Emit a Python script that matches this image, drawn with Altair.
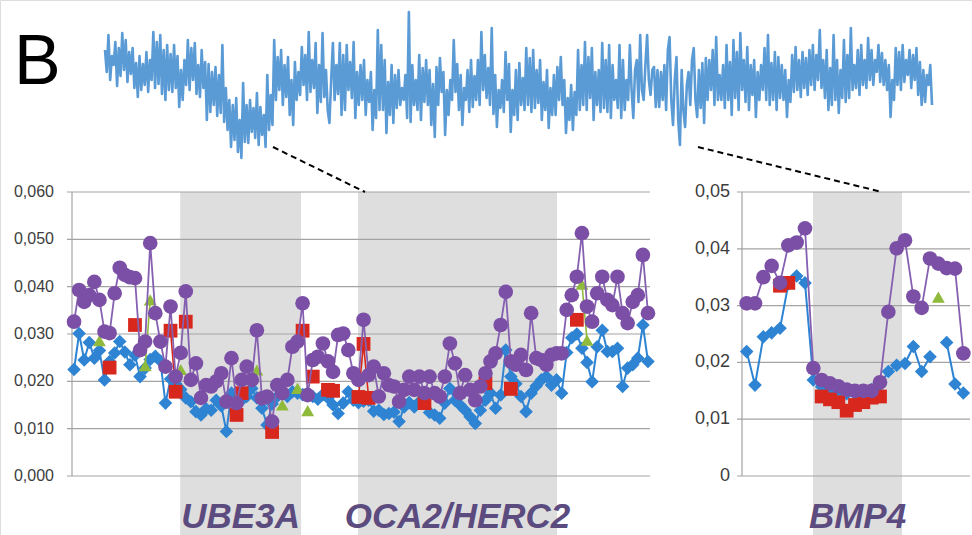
import altair as alt
import pandas as pd

# ---------------------------------------------------------------------------
# Top track: windowed signal along the whole region (arbitrary units, up = high)
# ---------------------------------------------------------------------------
track_signal = [
    110, 88, 125, 80, 104, 95, 118, 74, 112, 84, 127, 90, 120, 78, 108, 86, 112, 72, 97, 63,
    104, 70, 96, 75, 108, 68, 100, 80, 128, 72, 118, 76, 125, 66, 110, 60, 115, 70, 106, 68,
    115, 72, 104, 53, 90, 60, 100, 75, 120, 70, 112, 80, 117, 66, 95, 63, 110, 72, 98, 40,
    96, 48, 88, 55, 93, 44, 85, 47, 115, 38, 72, 30, 60, 13, 55, 20, 62, 8, 40, 2,
    77, 18, 55, 17, 60, 28, 52, 22, 67, 15, 53, 25, 45, 13, 85, 30, 65, 35, 120, 60,
    103, 70, 110, 55, 95, 63, 103, 45, 80, 35, 98, 60, 88, 65, 113, 75, 105, 60, 128, 68,
    100, 72, 117, 47, 95, 58, 127, 63, 90, 50, 37, 80, 117, 60, 95, 66, 117, 45, 105, 50,
    115, 70, 98, 62, 118, 42, 88, 55, 95, 60, 100, 45, 80, 58, 88, 30, 70, 42, 130, 50,
    115, 50, 100, 27, 78, 45, 95, 37, 85, 52, 90, 55, 72, 60, 85, 42, 148, 38, 95, 55,
    80, 50, 105, 40, 92, 58, 100, 55, 90, 35, 76, 23, 93, 55, 102, 68, 88, 25, 70, 45,
    80, 60, 120, 68, 96, 50, 85, 35, 72, 60, 90, 48, 100, 53, 84, 60, 100, 55, 128, 70,
    105, 62, 92, 55, 132, 46, 85, 33, 70, 52, 80, 48, 108, 60, 96, 28, 70, 45, 90, 40,
    97, 55, 82, 50, 112, 55, 102, 48, 110, 52, 90, 57, 100, 40, 78, 50, 90, 32, 72, 45,
    85, 45, 93, 60, 103, 55, 80, 27, 62, 40, 75, 30, 68, 45, 110, 50, 95, 55, 118, 50,
    103, 62, 112, 40, 88, 55, 90, 48, 117, 52, 100, 48, 115, 42, 95, 60, 80, 52, 115, 42,
    100, 50, 80, 60, 115, 70, 42, 90, 100, 58, 125, 70, 60, 95, 125, 80, 65, 90, 93, 53,
    90, 53, 88, 60, 95, 50, 110, 123, 60, 35, 80, 103, 40, 15, 90, 50, 33, 75, 88, 55,
    100, 112, 60, 43, 90, 52, 97, 37, 102, 60, 100, 70, 110, 55, 123, 60, 85, 60, 95, 52,
    115, 60, 98, 45, 120, 62, 108, 50, 127, 70, 100, 58, 113, 50, 95, 65, 100, 43, 88, 60,
    95, 70, 112, 60, 125, 55, 97, 60, 108, 50, 103, 62, 95, 60, 90, 43, 80, 58, 105, 68,
    113, 70, 100, 63, 108, 72, 102, 65, 110, 75, 115, 70, 105, 80, 130, 72, 100, 62, 110, 50,
    92, 55, 125, 60, 100, 47, 90, 62, 120, 58, 105, 62, 132, 70, 95, 72, 110, 65, 115, 75,
    100, 72, 122, 80, 110, 75, 100, 88, 115, 78, 107, 75, 100, 70, 95, 43, 80, 60, 112, 75,
    108, 70, 115, 78, 100, 85, 110, 72, 105, 80, 112, 65, 98, 55, 90, 58, 85, 75, 95, 55,
]

# ---------------------------------------------------------------------------
# Left panel: UBE3A and OCA2/HERC2 window (one value per marker position)
# ---------------------------------------------------------------------------
left_purple = [
    .0326, .0393, .0368, .0382, .0410, .0372, .0305, .0302, .0386, .0440,
    .0425, .0420, .0418, .0266, .0284, .0492, .0344, .0284, .0231, .0358,
    .0210, .0260, .0390, .0203, .0238, .0165, .0192, .0189, .0200, .0217,
    .0157, .0249, .0154, .0203, .0231, .0203, .0308, .0164, .0168, .0115,
    .0192, .0175, .0203, .0273, .0284, .0365, .0171, .0245, .0252, .0280,
    .0242, .0220, .0298, .0301, .0266, .0217, .0203, .0330, .0213, .0231,
    .0168, .0217, .0192, .0189, .0157, .0182, .0210, .0182, .0210, .0175,
    .0210, .0175, .0168, .0210, .0280, .0238, .0175, .0213, .0182, .0160,
    .0189, .0217, .0242, .0259, .0319, .0389, .0242, .0235, .0256, .0224,
    .0344, .0249, .0245, .0235, .0256, .0259, .0259, .0351, .0382, .0421,
    .0513, .0358, .0326, .0386, .0421, .0372, .0361, .0421, .0344, .0323,
    .0368, .0382, .0467, .0344,
]
left_blue = [
    .0225, .0301, .0245, .0282, .0249, .0265, .0203, .0242, .0260, .0284,
    .0262, .0235, .0255, .0210, .0228, .0246, .0253, .0243, .0154, .0205,
    .0195, .0183, .0165, .0157, .0136, .0129, .0142, .0139, .0160, .0148,
    .0094, .0175, .0155, .0160, .0168, .0185, .0165, .0143, .0108, .0152,
    .0168, .0175, .0168, .0178, .0175, .0172, .0175, .0168, .0162, .0172,
    .0165, .0150, .0132, .0154, .0178, .0160, .0155, .0158, .0160, .0137,
    .0139, .0130, .0132, .0135, .0115, .0146, .0155, .0146, .0157, .0160,
    .0134, .0129, .0122, .0154, .0185, .0160, .0150, .0139, .0125, .0111,
    .0139, .0160, .0175, .0143, .0171, .0266, .0210, .0195, .0168, .0136,
    .0175, .0190, .0203, .0210, .0192, .0203, .0175, .0261, .0292, .0300,
    .0270, .0240, .0199, .0273, .0308, .0263, .0263, .0270, .0189, .0228,
    .0235, .0249, .0319, .0242,
]
left_red_idx = [7, 12, 19, 20, 22, 32, 33, 39, 45, 47, 50, 51, 56, 57, 58, 69, 81, 86, 99]
left_red_val = [.0229, .0319, .0307, .0178, .0326, .0129, .0175, .0093, .0307, .0210,
                .0182, .0180, .0167, .0279, .0165, .0154, .0196, .0184, .0330]
left_green_idx = [5, 14, 15, 21, 36, 41, 44, 46, 100, 101]
left_green_val = [.0286, .0233, .0372, .0225, .0224, .0150, .0185, .0138, .0405, .0287]

left_genes = ["UBE3A", "OCA2/HERC2"]
left_gene_start = [20.9, 55.9]
left_gene_end = [44.7, 95.1]
left_ticks = [0.0, 0.01, 0.02, 0.03, 0.04, 0.05, 0.06]
left_tick_labels = ["0,000", "0,010", "0,020", "0,030", "0,040", "0,050", "0,060"]

# ---------------------------------------------------------------------------
# Right panel: BMP4 window
# ---------------------------------------------------------------------------
right_purple = [
    .0304, .0304, .0350, .0370, .0340, .0406, .0411, .0436, .0190, .0169,
    .0163, .0158, .0152, .0150, .0150, .0150, .0165, .0289, .0401, .0415,
    .0316, .0296, .0383, .0374, .0366, .0365, .0216,
]
right_blue = [
    .0219, .0160, .0245, .0252, .0260, .0338, .0352, .0340, .0169, .0157,
    .0152, .0148, .0145, .0145, .0148, .0152, .0160, .0184, .0195, .0198,
    .0228, .0184, .0210, None, .0235, .0162, .0146,
]
right_red_idx = [4, 5, 9, 10, 11, 12, 13, 14, 15, 16]
right_red_val = [.0335, .0340, .0140, .0135, .0130, .0115, .0125, .0130, .0138, .0140]
right_green_idx = [23]
right_green_val = [.0315]

right_genes = ["BMP4"]
right_gene_start = [7.96]
right_gene_end = [18.65]
right_ticks = [0.0, 0.01, 0.02, 0.03, 0.04, 0.05]
right_tick_labels = ["0", "0,01", "0,02", "0,03", "0,04", "0,05"]

# Figure annotations (figure pixel units): panel letter and zoom connectors
panel_letter = "B"
connector_x0 = [273, 698]
connector_y0 = [147, 147]
connector_x1 = [365, 882]
connector_y1 = [192, 192]

# ---------------------------------------------------------------------------
FONT = "Liberation Sans"
C_PURPLE = "#7b4fa5"
C_PURPLE_LINE = "#8660b0"
C_BLUE = "#2e84d2"
C_RED = "#d8281d"
C_GREEN = "#8fba3c"
C_TRACK = "#5b9bd5"
C_SHADE = "#dedede"
C_GRID = "#a3a3a3"
C_GENE = "#5b4b7f"


def series_frame(values, idx=None):
    """Rows (i, v, seg); seg changes wherever the run of values is broken."""
    if idx is None:
        idx = list(range(len(values)))
    rows, seg, prev = [], 0, None
    for i, v in zip(idx, values):
        if v is None:
            prev = None
            continue
        if prev is None or i != prev + 1:
            seg += 1
        rows.append({"i": i, "v": v, "seg": seg})
        prev = i
    return pd.DataFrame(rows)


def panel(purple, blue, red, green, genes, ticks, tick_labels,
          x_dom, x_rng, y_dom, y_rng, gene_y, label_dx, label_size):
    xs = alt.Scale(domain=x_dom, range=x_rng, nice=False, zero=False)
    ys = alt.Scale(domain=y_dom, range=y_rng, nice=False, zero=False)
    px_per_unit = (x_rng[1] - x_rng[0]) / (x_dom[1] - x_dom[0])
    tick_len = 5 / px_per_unit

    def X(f):
        return alt.X(f, type="quantitative", scale=xs, axis=None)

    def Y(f):
        return alt.Y(f, type="quantitative", scale=ys, axis=None)

    names, starts, ends = genes
    gdf = pd.DataFrame({"gene": names, "x0": starts, "x1": ends})
    gdf["mid"] = (gdf["x0"] + gdf["x1"]) / 2
    gdf["top"] = y_dom[1]
    gdf["bottom"] = gene_y * 3
    gdf["ly"] = gene_y

    shade = alt.Chart(gdf).mark_rect(color=C_SHADE).encode(
        x=X("x0"), x2="x1", y=Y("top"), y2="bottom")

    grid_df = pd.DataFrame({"v": ticks, "label": tick_labels})
    grid_df["x0"] = x_dom[0] - tick_len
    grid_df["x1"] = x_dom[1]
    grid_df["ax"] = x_dom[0]
    grid = alt.Chart(grid_df).mark_rule(color=C_GRID, strokeWidth=1.2).encode(
        x=X("x0"), x2="x1", y=Y("v"))

    axis_df = pd.DataFrame({"ax": [x_dom[0]], "lo": [y_dom[0]], "hi": [y_dom[1]]})
    axis_line = alt.Chart(axis_df).mark_rule(color=C_GRID, strokeWidth=1.2).encode(
        x=X("ax"), y=Y("lo"), y2="hi")

    tick_text = alt.Chart(grid_df).mark_text(
        align="right", baseline="middle", dx=label_dx, font=FONT,
        fontSize=label_size, color="#3d3d3d").encode(
        x=X("ax"), y=Y("v"), text="label:N")

    gene_text = alt.Chart(gdf).mark_text(
        align="center", baseline="alphabetic", font=FONT, fontSize=35,
        fontStyle="italic", fontWeight="bold", color=C_GENE).encode(
        x=X("mid"), y=Y("ly"), text="gene:N")

    def line(df, color, width):
        return alt.Chart(df).mark_line(color=color, strokeWidth=width).encode(
            x=X("i"), y=Y("v"), detail="seg:N")

    def pts(df, shape, color, size):
        return alt.Chart(df).mark_point(
            shape=shape, filled=True, opacity=1, color=color, size=size).encode(
            x=X("i"), y=Y("v"))

    bdf = series_frame(blue)
    rdf = series_frame(red[1], red[0])
    gdf2 = series_frame(green[1], green[0])
    pdf = series_frame(purple)

    return alt.layer(
        shade, grid, axis_line, gene_text,
        line(bdf, C_BLUE, 2), pts(bdf, "diamond", C_BLUE, 185),
        line(rdf, C_RED, 1.6), pts(rdf, "square", C_RED, 190),
        line(gdf2, C_GREEN, 1.6), pts(gdf2, "triangle-up", C_GREEN, 165),
        line(pdf, C_PURPLE_LINE, 1.8), pts(pdf, "circle", C_PURPLE, 215),
        tick_text,
    )


left = panel(
    left_purple, left_blue, (left_red_idx, left_red_val), (left_green_idx, left_green_val),
    (left_genes, left_gene_start, left_gene_end), left_ticks, left_tick_labels,
    x_dom=[-0.4, 113.4], x_rng=[72, 650], y_dom=[0, 0.06], y_rng=[476, 192],
    gene_y=-0.011, label_dx=-18, label_size=16)

right = panel(
    right_purple, right_blue, (right_red_idx, right_red_val), (right_green_idx, right_green_val),
    (right_genes, right_gene_start, right_gene_end), right_ticks, right_tick_labels,
    x_dom=[-0.56, 26.8], x_rng=[742, 970], y_dom=[0, 0.05], y_rng=[476, 192],
    gene_y=-0.00915, label_dx=-12, label_size=18)

# Top track
track_df = pd.DataFrame({"i": list(range(len(track_signal))), "h": track_signal})
track = alt.Chart(track_df).mark_line(
    color=C_TRACK, strokeWidth=2.6, strokeJoin="round").encode(
    x=alt.X("i:Q", scale=alt.Scale(domain=[0, len(track_signal) - 1], range=[105, 932],
                                   nice=False, zero=False), axis=None),
    y=alt.Y("h:Q", scale=alt.Scale(domain=[0, 160], range=[160, 0], nice=False, zero=False),
            axis=None))

# Figure-level annotations
fx = alt.Scale(domain=[0, 972], range=[0, 972], nice=False, zero=False)
fy = alt.Scale(domain=[0, 535], range=[0, 535], nice=False, zero=False)
conn_df = pd.DataFrame({"x0": connector_x0, "y0": connector_y0,
                        "x1": connector_x1, "y1": connector_y1})
connectors = alt.Chart(conn_df).mark_rule(
    color="black", strokeWidth=2, strokeDash=[6, 4]).encode(
    x=alt.X("x0:Q", scale=fx, axis=None), x2="x1",
    y=alt.Y("y0:Q", scale=fy, axis=None), y2="y1")
letter_df = pd.DataFrame({"t": [panel_letter], "x": [14], "y": [84]})
letter = alt.Chart(letter_df).mark_text(
    align="left", baseline="alphabetic", font=FONT, fontSize=70, color="black").encode(
    x=alt.X("x:Q", scale=fx, axis=None), y=alt.Y("y:Q", scale=fy, axis=None), text="t:N")
overlay = alt.layer(connectors, letter)

chart = alt.layer(track, left, right, overlay).resolve_scale(
    x="independent", y="independent"
).properties(
    width=972, height=535, padding=0,
    autosize=alt.AutoSizeParams(type="none"),
).configure_view(stroke=None).configure(background="white")

chart.save("out.html", embed_options={"renderer": "svg", "actions": False})
